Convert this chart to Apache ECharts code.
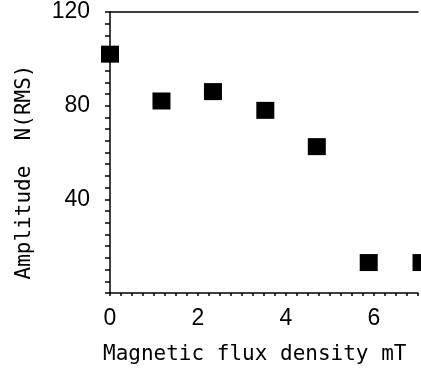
<!DOCTYPE html>
<html>
<head>
<meta charset="utf-8">
<script src="https://cdn.jsdelivr.net/npm/echarts@6/dist/echarts.min.js"></script>
<style>
html,body{margin:0;padding:0;background:#fff;}
#c{width:421px;height:372px;}
</style>
</head>
<body>
<div id="c"></div>
<script>
var fluxDensity = [0, 1.17, 2.34, 3.53, 4.7, 5.88, 7.08];
var amplitude = [102, 82, 86, 78, 62.5, 13, 13];
var xTitle = 'Magnetic flux density mT';
var yTitle = 'Amplitude  N(RMS)';

var FONT = '"DejaVu Sans Mono", "Liberation Mono", monospace';
var NUMFONT = '"Liberation Sans Narrow", "Liberation Sans", sans-serif';
var chart = echarts.init(document.getElementById('c'), null, {renderer: 'canvas'});
var pts = fluxDensity.map(function (x, i) { return [x, amplitude[i]]; });
chart.setOption({
  animation: false,
  backgroundColor: '#fff',
  grid: {left: 110, right: 0, top: 12, bottom: 79},
  xAxis: [{
    type: 'value', min: 0, max: 7, interval: 0.25,
    splitLine: {show: false},
    axisLine: {lineStyle: {color: '#000', width: 1.5}},
    axisTick: {length: 3, lineStyle: {color: '#000', width: 1.5}},
    axisLabel: {
      color: '#000', fontFamily: NUMFONT, fontSize: 23, margin: 14,
      formatter: function (v) { return (Math.abs(v % 2) < 1e-9) ? String(v) : ''; }
    }
  }, {
    type: 'value', position: 'top', min: 0, max: 7,
    splitLine: {show: false},
    axisLine: {show: true, lineStyle: {color: '#000', width: 1.5}},
    axisTick: {show: false}, axisLabel: {show: false}
  }],
  yAxis: {
    type: 'value', min: 0, max: 120, interval: 5,
    splitLine: {show: false},
    axisLine: {lineStyle: {color: '#000', width: 1.5}},
    axisTick: {length: 5, lineStyle: {color: '#000', width: 1.5}},
    axisLabel: {
      color: '#000', fontFamily: NUMFONT, fontSize: 23, margin: 20,
      formatter: function (v) { return (v > 0 && v % 40 === 0) ? String(v) : ''; }
    }
  },
  graphic: [{
    type: 'text', x: 25, y: 172, rotation: Math.PI / 2,
    style: {text: yTitle, fill: '#000', font: '21px ' + FONT, align: 'center', verticalAlign: 'middle'}
  }, {
    type: 'text', x: 103, y: 355,
    style: {text: xTitle, fill: '#000', font: '21px ' + FONT, align: 'left', verticalAlign: 'middle'}
  }],
  series: [{
    type: 'scatter', data: pts, clip: false,
    symbol: 'rect', symbolSize: [18, 17],
    itemStyle: {color: '#000', opacity: 1}
  }]
});
</script>
</body>
</html>
